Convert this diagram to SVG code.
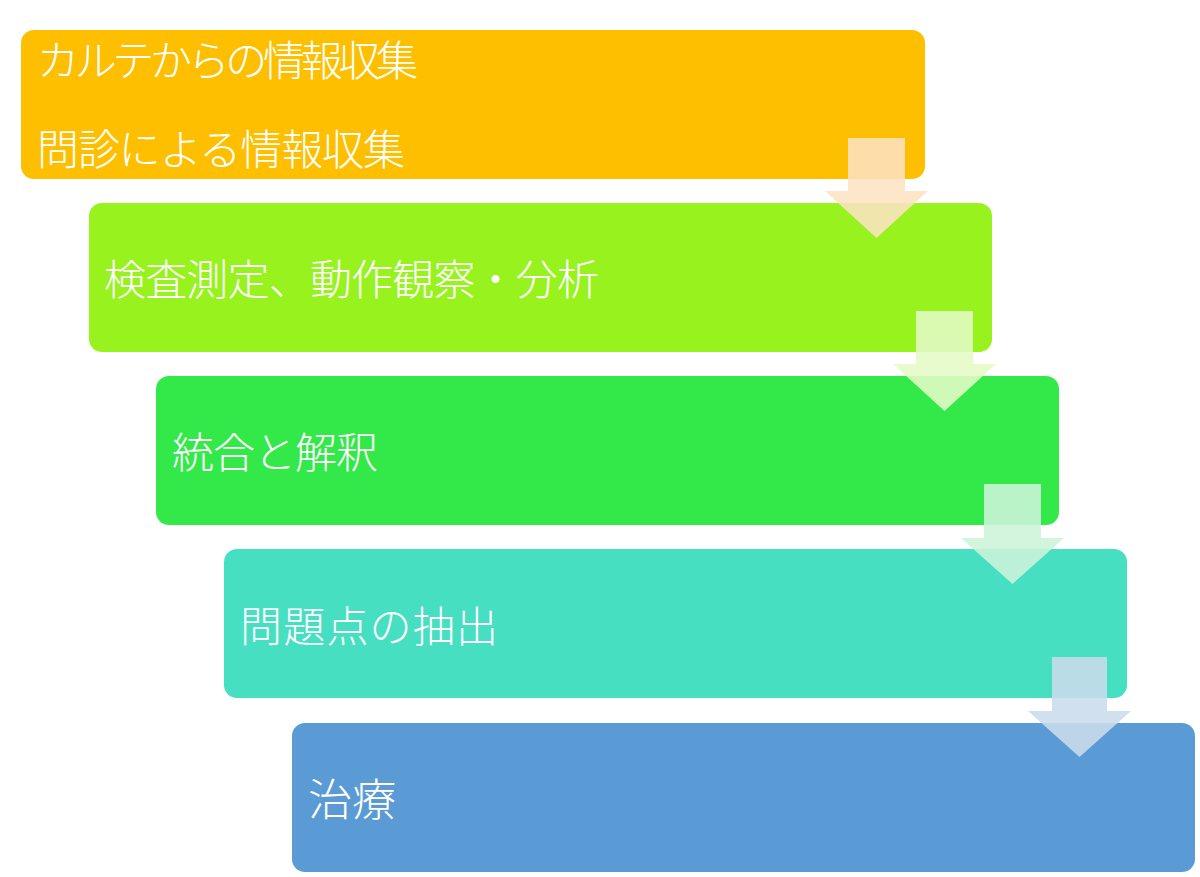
<svg xmlns="http://www.w3.org/2000/svg" width="1200" height="877" viewBox="0 0 1200 877">
<style>
.box{stroke:none}
.lbl{font-family:"Noto Sans CJK JP","Noto Sans",sans-serif;font-size:42px;fill:#ffffff;dominant-baseline:central;font-weight:300}
.arr{opacity:0.88}
</style>
<rect width="1200" height="877" fill="#ffffff"/>
<g id="node1">
<rect class="box" x="21" y="30" width="904" height="149" rx="13" fill="#fdbf00"/>
<text class="lbl" x="37" y="57" textLength="381" lengthAdjust="spacing">カルテからの情報収集</text>
<text class="lbl" x="37" y="146" textLength="368" lengthAdjust="spacing">問診による情報収集</text>
</g>
<g id="node2">
<rect class="box" x="89" y="203" width="903" height="149" rx="13" fill="#97f21d"/>
<text class="lbl" x="104" y="276" textLength="495" lengthAdjust="spacing">検査測定、動作観察・分析</text>
</g>
<g id="node3">
<rect class="box" x="156" y="376" width="903" height="149" rx="13" fill="#33e94a"/>
<text class="lbl" x="172" y="449" textLength="206" lengthAdjust="spacing">統合と解釈</text>
</g>
<g id="node4">
<rect class="box" x="224" y="549" width="903" height="149" rx="13" fill="#46dfc1"/>
<text class="lbl" x="240" y="623" textLength="258" lengthAdjust="spacing">問題点の抽出</text>
</g>
<g id="node5">
<rect class="box" x="292" y="723" width="903" height="149" rx="13" fill="#5b9bd5"/>
<text class="lbl" x="308" y="797" style="font-size:44px">治療</text>
</g>
<g id="connectors">
<polygon class="arr" fill="#fde3c2" points="848,138 905,138 905,191 928,191 876.5,238 825,191 848,191"/>
<polygon class="arr" fill="#e4fac6" points="916,311 973,311 973,364 996,364 944.5,411 893,364 916,364"/>
<polygon class="arr" fill="#cdf4da" points="984,484 1041,484 1041,538 1064,538 1012.5,584 961,538 984,538"/>
<polygon class="arr" fill="#cbdcec" points="1052,657 1107,657 1107,711 1131,711 1079.5,757 1028,711 1052,711"/>
</g>
</svg>
